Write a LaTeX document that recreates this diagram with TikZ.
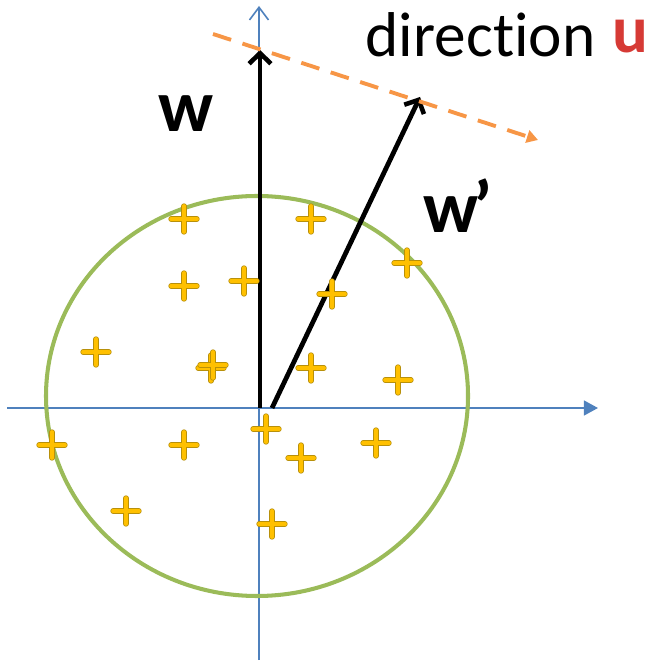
\documentclass[tikz,border=0pt]{standalone}
\usepackage{fontspec}
\setmainfont{Carlito}[Ligatures=NoCommon]
\usetikzlibrary{arrows.meta}
\definecolor{axisblue}{HTML}{4F81BD}
\definecolor{circgreen}{HTML}{9BBB59}
\definecolor{dirorange}{HTML}{F79646}
\definecolor{plusyellow}{HTML}{FFC000}
\definecolor{plusedge}{HTML}{B8900A}
\definecolor{ured}{HTML}{D63A35}
\tikzset{
  axisline/.style={axisblue, line width=0.6pt},
  vecline/.style={black, line width=1.35pt, -{Straight Barb[length=3pt,width=6.2pt,line width=1.3pt]}},
  dirline/.style={dirorange, line width=1.1pt, dash pattern=on 5.4pt off 3.4pt, -{Triangle[length=3.2pt,width=3.6pt]}},
  plusdark/.style={plusedge, line width=1.5pt, line cap=round},
  pluslight/.style={plusyellow, line width=1.05pt, line cap=round},
  plusmark/.pic={
    \draw[plusdark] (-13,0) -- (13,0) (0,-13) -- (0,13);
    \draw[pluslight] (-13,0) -- (13,0) (0,-13) -- (0,13);
  },
  lbl/.style={inner sep=0pt, font=\fontsize{18}{20}\selectfont},
  wlbl/.style={inner sep=0pt, font=\fontsize{21}{24}\selectfont\bfseries},
}
\begin{document}
\begin{tikzpicture}[x=0.01cm,y=-0.01cm]
\useasboundingbox (0,0) rectangle (650,662);
% axes
\coordinate (xL) at (7,408);
\coordinate (xR) at (598,408);
\coordinate (yB) at (259,660);
\coordinate (yT) at (259,6);
\draw[axisline, -{Triangle[length=4pt,width=4.2pt]}] (xL) -- (xR);
\draw[axisline, -{Straight Barb[length=3.6pt,width=5.4pt,line width=0.45pt]}] (yB) -- (yT);
% circle
\coordinate (C) at (257,396);
\draw[circgreen, line width=1.15pt] (C) ellipse [x radius=211, y radius=200];
% vectors
\coordinate (wS) at (260,408);
\coordinate (wT) at (260,50);
\coordinate (vS) at (272,408);
\coordinate (vT) at (420,97);
\draw[vecline] (wS) -- (wT);
\draw[vecline] (vS) -- (vT);
% direction line
\coordinate (dS) at (213,34);
\coordinate (dE) at (538,140);
\draw[dirline] (dS) -- (dE);
% plus marks
\foreach \px/\py in {184/219, 311/219, 184/286, 244/281, 96/352, 211/368, 213/365,
  311/368, 407/263, 332/294, 398/380, 52/445, 184/445, 266/429, 301/458,
  126/511, 272/524, 376/443}
  \pic at (\px,\py) {plusmark};
% labels
\node[lbl, anchor=base west] (dirtext) at (365,57) {direction};
\node[inner sep=0pt, anchor=base west, text=ured, font=\fontsize{19}{22}\selectfont\bfseries] (utext) at (612,53) {u};
\node[wlbl, anchor=base] (wtext) at (186,132) {w};
\node[wlbl, anchor=base west] (wptext) at (423,233) {w\kern-1.5pt’};
\end{tikzpicture}
\end{document}
